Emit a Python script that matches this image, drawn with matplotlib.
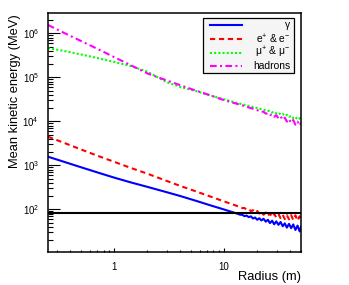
import matplotlib
matplotlib.use("Agg")
import matplotlib.pyplot as plt
from matplotlib.patches import Rectangle
from matplotlib.lines import Line2D
from matplotlib.ticker import LogLocator, NullFormatter, FuncFormatter

plt.rcParams['font.family'] = ['Liberation Sans', 'DejaVu Sans']
plt.rcParams['mathtext.fontset'] = 'custom'
plt.rcParams['mathtext.rm'] = 'Liberation Sans'
plt.rcParams['mathtext.it'] = 'Liberation Sans:italic'
plt.rcParams['mathtext.bf'] = 'Liberation Sans:bold'

# ---------------- data ----------------
radius = [0.25, 0.35, 0.5, 0.7, 1.0, 1.4, 2.0, 3.0, 4.0, 5.5, 7.5, 10, 13,
          14.0, 14.6, 15.3, 16.0, 16.7, 17.5, 18.3, 19.1, 20.0, 20.9, 21.8, 22.8,
          23.9, 25.0, 26.1, 27.3, 28.5, 29.8, 31.2, 32.6, 34.1, 35.6, 37.2, 38.9,
          40.7, 42.5, 44.5, 46.5, 48.6, 50.0]

gamma = [1570, 1200, 902, 692, 525, 412, 324, 245, 200, 157, 123, 98.9, 80.4,
         75.2, 75.2, 69.8, 72.1, 66.4, 69.2, 61.7, 65.2, 57.8, 62.7, 55.7, 61.0,
         52.4, 57.8, 48.5, 55.0, 45.7, 53.0, 44.4, 51.5, 41.2, 47.9, 38.4, 46.6,
         37.2, 45.3, 33.9, 42.6, 31.4, 39.9]

electrons = [4470, 3240, 2290, 1660, 1200, 881, 646, 442, 339, 257, 195, 151, 120,
             113, 107, 107, 98.4, 101, 91.2, 95.5, 84.5, 91.2, 80.0, 87.5, 75.0,
             84.3, 71.3, 80.4, 67.1, 78.5, 65.8, 77.8, 63.1, 74.8, 60.0, 73.6, 59.2,
             73.6, 57.1, 72.8, 55.2, 69.5, 53.6]

muons = [463000, 398000, 331000, 275000, 224000, 182000, 135000, 77600, 60300,
         49000, 38900, 31600, 26300,
         25100, 24400, 23700, 23000, 22400, 21700, 21100, 20600, 19950, 19400,
         18900, 18400, 17800, 17300, 17200, 16000, 16400, 15100, 15600, 14200,
         14700, 13300, 14000, 12600, 13300, 11800, 12500, 11000, 11800, 10600]

hadrons = [1550000, 1023000, 668000, 447000, 288000, 191000, 123000, 85100, 66100,
           50100, 38900, 30200, 25100,
           23700, 23000, 22100, 21400, 20700, 19900, 19300, 18600, 17900, 17300,
           16400, 16600, 14900, 15400, 13800, 14600, 12700, 13800, 11700, 12900,
           10800, 12100, 9860, 11200, 9290, 10700, 8380, 9860, 8000, 9200]

threshold = 83

labels = ['γ', 'e$^{+}$ & e$^{-}$', 'μ$^{+}$ & μ$^{-}$', 'hadrons']
colors = ['#0000ff', '#ff0000', '#00ff00', '#ff00ff']
xlim = (0.25, 50)
ylim = (10.7, 2.9e6)

# ---------------- figure ----------------
fig = plt.figure(figsize=(3.49, 2.85), dpi=100)
ax = fig.add_axes([48 / 349, 33 / 285, 253 / 349, 239 / 285])

lw = 1.5
styles = [dict(linestyle='-'),
          dict(linestyle=(0, (2.5, 1.8))),
          dict(linestyle=(0, (1.0, 1.0))),
          dict(linestyle=(0, (3.2, 1.6, 1.0, 1.6)))]
series = [gamma, electrons, muons, hadrons]

for vals, c, st in zip(series, colors, styles):
    ax.plot(radius, vals, color=c, lw=lw, **st)

ax.axhline(threshold, color='black', lw=1.5)

ax.set_xscale('log')
ax.set_yscale('log')
ax.set_xlim(*xlim)
ax.set_ylim(*ylim)

ax.yaxis.set_major_locator(LogLocator(base=10, numticks=20))
ax.yaxis.set_minor_locator(LogLocator(base=10, subs=range(2, 10), numticks=40))
ax.yaxis.set_minor_formatter(NullFormatter())
ax.xaxis.set_major_locator(LogLocator(base=10, numticks=20))
ax.xaxis.set_minor_locator(LogLocator(base=10, subs=range(2, 10), numticks=40))
ax.xaxis.set_minor_formatter(NullFormatter())
ax.xaxis.set_major_formatter(FuncFormatter(lambda v, p: '%g' % v))

ax.tick_params(axis='y', which='major', direction='in', length=8.5, width=0.8,
               labelsize=7.0, pad=6.5, right=False)
ax.tick_params(axis='y', which='minor', direction='in', length=3.6, width=0.8,
               right=False)
ax.tick_params(axis='x', which='major', direction='in', length=3.0, width=0.8,
               labelsize=7, pad=7.5, top=False)
ax.tick_params(axis='x', which='minor', direction='in', length=1.8, width=0.8,
               top=False)

for s in ax.spines.values():
    s.set_linewidth(1.1)
    s.set_color('black')

ax.set_xlabel('Radius (m)', fontsize=9.3, loc='right')
ax.xaxis.set_label_coords(1.0, -0.08)
ax.set_ylabel('Mean kinetic energy (MeV)', fontsize=9.3, loc='top')
ax.yaxis.set_label_coords(-0.108, 0.995)

# ---------------- legend (ROOT style) ----------------
ax.add_patch(Rectangle((0.6126, 0.749), 0.359, 0.230, transform=ax.transAxes,
                       facecolor='#f5f5f5', edgecolor='black', lw=0.9, zorder=5))
entry_y = [0.950, 0.891, 0.834, 0.780]
for yy, lab, c, st in zip(entry_y, labels, colors, styles):
    ax.add_line(Line2D([0.640, 0.766], [yy, yy], transform=ax.transAxes,
                       color=c, lw=lw, zorder=6, **st))
    ax.text(0.957, yy, lab, transform=ax.transAxes, ha='right', va='center',
            fontsize=7.4, zorder=6)

fig.savefig('out.png', dpi=100)
